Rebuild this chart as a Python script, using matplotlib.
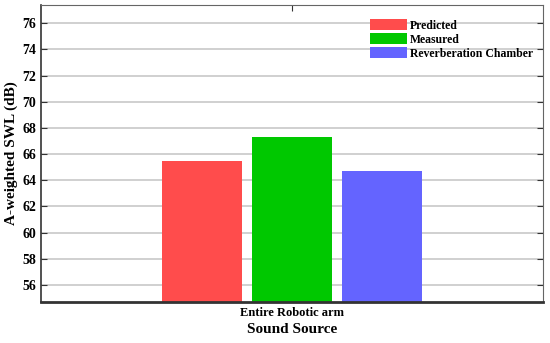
import numpy as np
import matplotlib.pyplot as plt

plt.rcParams['font.family'] = ['Liberation Serif', 'DejaVu Serif']
plt.rcParams['font.weight'] = 'bold'

# data
category = ['Entire Robotic arm']
series = ['Predicted', 'Measured', 'Reverberation Chamber']
values = [65.5, 67.3, 64.7]
colors = ['#ff4c4c', '#00c800', '#6464ff']
yticks = [56, 58, 60, 62, 64, 66, 68, 70, 72, 74, 76]

fig = plt.figure(figsize=(5.5, 3.43), dpi=100)
ax = fig.add_axes([41/550, 41/343, 502/550, 297/343])

x = np.arange(len(category)) + 1
width = 0.159
offsets = [-0.18, 0, 0.18]
for name, val, col, off in zip(series, values, colors, offsets):
    ax.bar(x + off, [val], width=width, color=col, label=name, zorder=2)

ax.set_xlim(0.5, 1.5)
ax.set_ylim(54.7, 77.4)
ax.set_yticks(yticks)
ax.set_xticks(x)
ax.set_xticklabels(category, fontsize=9, fontweight='bold')
ax.tick_params(axis='y', labelsize=10, direction='in', right=True, length=4, color='#333333')
ax.tick_params(axis='x', direction='in', top=True, length=4, color='#333333')
ax.yaxis.grid(True, color='#c8c8c8', linewidth=1.2, zorder=0)
ax.set_axisbelow(True)

for s in ['top', 'right']:
    ax.spines[s].set_color('#666666')
ax.spines['left'].set_color('#333333')
ax.spines['bottom'].set_color('#333333')
ax.spines['bottom'].set_linewidth(2)
ax.spines['left'].set_linewidth(1.2)

ax.set_ylabel('A-weighted SWL (dB)', fontsize=11, fontweight='bold', labelpad=3)
ax.set_xlabel('Sound Source', fontsize=11, fontweight='bold', labelpad=3)

leg = ax.legend(loc='upper right', bbox_to_anchor=(0.98, 0.952), frameon=False,
                fontsize=8.5, handlelength=3.2, handleheight=1.0,
                labelspacing=0.15, handletextpad=0.2, borderaxespad=0.0,
                borderpad=0.0)

fig.savefig('out.png', dpi=100)
